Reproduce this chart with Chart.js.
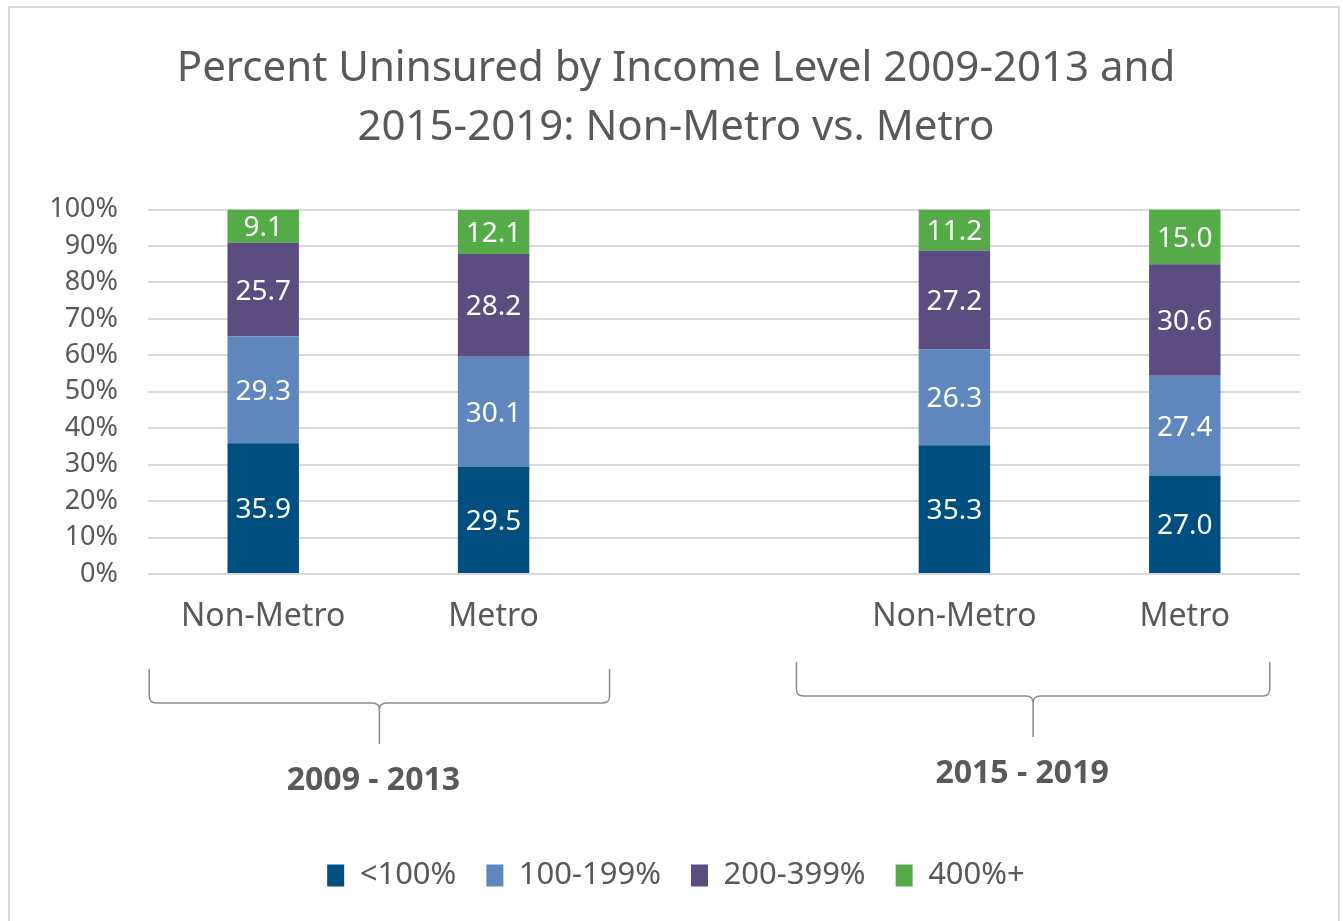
<!DOCTYPE html>
<html>
<head>
<meta charset="utf-8">
<script src="https://cdn.jsdelivr.net/npm/chart.js@4.4.1/dist/chart.umd.min.js"></script>
<style>
  html, body { margin: 0; padding: 0; background: #fff; }
  #box { width: 1343px; height: 921px; }
</style>
</head>
<body>
<div id="box"><canvas id="myChart" width="1343" height="921"></canvas></div>
<script>
const categories = ['Non-Metro', 'Metro', '', 'Non-Metro', 'Metro'];
const seriesNames = ['<100%', '100-199%', '200-399%', '400%+'];
const below100 = [35.9, 29.5, null, 35.3, 27.0];
const from100to199 = [29.3, 30.1, null, 26.3, 27.4];
const from200to399 = [25.7, 28.2, null, 27.2, 30.6];
const from400up = [9.1, 12.1, null, 11.2, 15.0];
const periods = ['2009 - 2013', '2015 - 2019'];
const titleLines = ['Percent Uninsured by Income Level 2009-2013 and', '2015-2019: Non-Metro vs. Metro'];

const colors = ['#004f80', '#5f87bd', '#5b4d80', '#55ab48'];
const textGray = '#595959';
const font = "'Noto Sans', 'Open Sans', sans-serif";

// white numbers in the middle of each segment
const segmentLabels = {
  id: 'segmentLabels',
  afterDatasetsDraw(chart) {
    const ctx = chart.ctx;
    ctx.save();
    ctx.fillStyle = '#fff';
    ctx.font = '28px ' + font;
    ctx.textAlign = 'center';
    ctx.textBaseline = 'middle';
    chart.data.datasets.forEach((ds, i) => {
      chart.getDatasetMeta(i).data.forEach((bar, j) => {
        const v = ds.data[j];
        if (v == null) return;
        ctx.fillText(v.toFixed(1), bar.x, (bar.y + bar.base) / 2 + 2);
      });
    });
    ctx.restore();
  }
};

// outer frame plus the period braces under the x labels
const frameAndBraces = {
  id: 'frameAndBraces',
  beforeDraw(chart) {
    const ctx = chart.ctx;
    ctx.save();
    ctx.strokeStyle = '#d9d9d9';
    ctx.lineWidth = 2;
    ctx.strokeRect(9, 7, 1330, 940);
    ctx.restore();
  },
  afterDraw(chart) {
    const ctx = chart.ctx;
    const x = chart.scales.x;
    const base = chart.chartArea.bottom;
    const layout = [
      { from: 0, to: 1, left: -114, right: 116, dy: 0, textDx: -6 },
      { from: 3, to: 4, left: -158, right: 85, dy: -7, textDx: -11 }
    ];
    ctx.save();
    ctx.strokeStyle = '#8c8c8c';
    ctx.lineWidth = 1.5;
    layout.forEach((g, i) => {
      const x0 = x.getPixelForValue(g.from) + g.left;
      const x1 = x.getPixelForValue(g.to) + g.right;
      const xc = (x0 + x1) / 2;
      const yTop = base + 95 + g.dy, yMid = base + 129 + g.dy, yTip = base + 170 + g.dy;
      const r = 7;
      ctx.beginPath();
      ctx.moveTo(x0, yTop);
      ctx.lineTo(x0, yMid - r);
      ctx.quadraticCurveTo(x0, yMid, x0 + r, yMid);
      ctx.lineTo(xc - r, yMid);
      ctx.quadraticCurveTo(xc, yMid, xc, yMid + r);
      ctx.lineTo(xc, yTip);
      ctx.moveTo(xc, yMid + r);
      ctx.quadraticCurveTo(xc, yMid, xc + r, yMid);
      ctx.lineTo(x1 - r, yMid);
      ctx.quadraticCurveTo(x1, yMid, x1, yMid - r);
      ctx.lineTo(x1, yTop);
      ctx.stroke();

      ctx.fillStyle = textGray;
      ctx.font = 'bold 32px ' + font;
      ctx.textAlign = 'center';
      ctx.textBaseline = 'middle';
      ctx.fillText(periods[i], xc + g.textDx, base + 207 + g.dy);
    });
    ctx.restore();
  }
};

const ctx = document.getElementById('myChart').getContext('2d');
const datasets = [below100, from100to199, from200to399, from400up].map((d, i) => ({
  label: seriesNames[i],
  data: d,
  backgroundColor: colors[i],
  borderWidth: 0,
  categoryPercentage: 1,
  barPercentage: 0.31
}));

new Chart(ctx, {
  type: 'bar',
  data: { labels: categories, datasets: datasets },
  options: {
    responsive: false,
    animation: false,
    layout: { padding: { top: 8, left: 52, right: 43, bottom: 20 } },
    plugins: {
      title: {
        display: true,
        text: titleLines,
        color: textGray,
        font: { family: font, size: 42, weight: 'normal', lineHeight: 1.4 },
        padding: { top: 32, bottom: 52 }
      },
      legend: {
        position: 'bottom',
        labels: {
          color: textGray,
          font: { family: font, size: 31 },
          boxWidth: 17,
          boxHeight: 22,
          padding: 30
        }
      },
      tooltip: { enabled: false }
    },
    scales: {
      x: {
        stacked: true,
        grid: { display: false },
        border: { display: false },
        ticks: { color: textGray, font: { family: font, size: 32 }, padding: 16 },
        afterFit(scale) { scale.height = 256; }
      },
      y: {
        stacked: true,
        min: 0,
        max: 100,
        grid: { color: '#d9d9d9', lineWidth: 2, drawTicks: false },
        border: { display: false },
        ticks: {
          stepSize: 10,
          color: textGray,
          font: { family: font, size: 27 },
          padding: 30,
          callback: v => v + '%'
        },
        afterFit(scale) { scale.width = 96; }
      }
    }
  },
  plugins: [segmentLabels, frameAndBraces]
});
</script>
</body>
</html>
